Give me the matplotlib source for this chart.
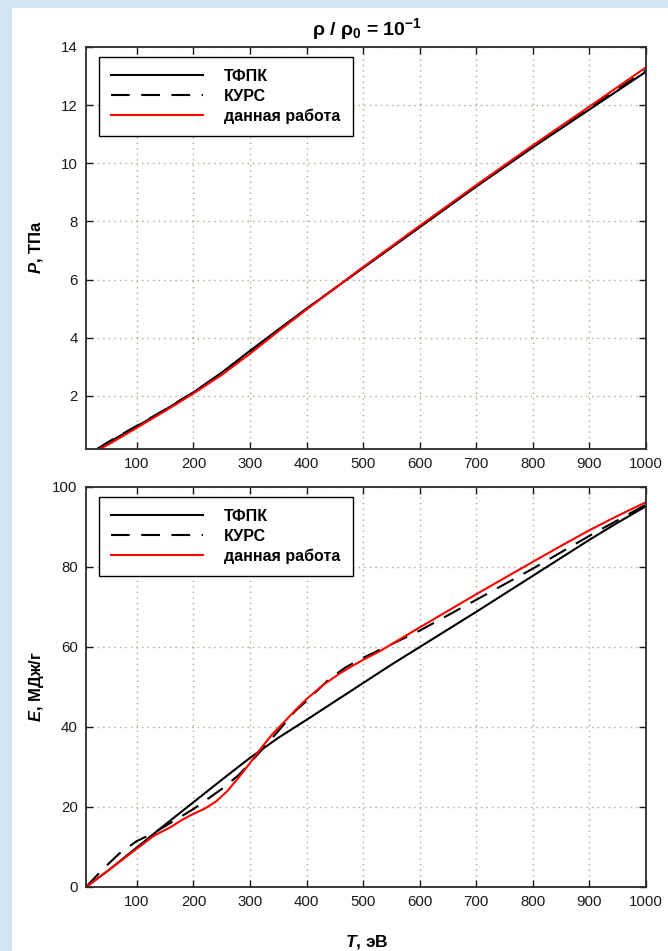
import numpy as np
import matplotlib
matplotlib.use('Agg')
import matplotlib.pyplot as plt
from matplotlib.patches import Rectangle

plt.rcParams['font.family'] = ['Liberation Sans', 'DejaVu Sans']
plt.rcParams['mathtext.fontset'] = 'custom'
plt.rcParams['mathtext.rm'] = 'Liberation Sans:bold'
plt.rcParams['mathtext.it'] = 'Liberation Sans:italic:bold'
plt.rcParams['mathtext.bf'] = 'Liberation Sans:bold'

# pressure, TPa
T_p_tf = [30, 50, 100, 150, 200, 250, 300, 350, 400, 450, 500, 600, 700, 800, 900, 1000]
P_tf = [0.17, 0.40, 0.95, 1.52, 2.12, 2.80, 3.55, 4.28, 5.00, 5.70, 6.40, 7.80, 9.20, 10.55, 11.85, 13.15]
T_p_kurs = [30, 50, 100, 150, 200, 250, 300, 350, 400, 450, 500, 600, 700, 800, 900, 1000]
P_kurs = [0.17, 0.42, 0.97, 1.53, 2.12, 2.78, 3.52, 4.26, 5.00, 5.70, 6.42, 7.82, 9.22, 10.58, 11.90, 13.20]
T_p_our = [32, 50, 100, 150, 200, 250, 300, 350, 400, 450, 500, 600, 700, 800, 900, 1000]
P_our = [0.15, 0.33, 0.90, 1.48, 2.08, 2.72, 3.45, 4.22, 4.97, 5.70, 6.43, 7.85, 9.25, 10.62, 11.95, 13.30]

# energy, MJ/kg
T_e_tf = [10, 50, 100, 150, 200, 250, 300, 350, 400, 450, 500, 550, 600, 700, 800, 850, 900, 950, 1000]
E_tf = [0, 4.2, 9.9, 15.6, 21.2, 26.8, 32.3, 37.3, 41.8, 46.4, 51.0, 55.6, 60.0, 68.8, 77.8, 82.3, 86.8, 91.1, 95.2]
T_e_kurs = [10, 40, 70, 100, 130, 165, 200, 250, 280, 300, 350, 380, 400, 440, 470, 500, 540, 600, 700, 800, 900, 1000]
E_kurs = [0, 4.5, 8.5, 11.5, 13.5, 16.5, 19.5, 24.5, 28.0, 31.0, 39.0, 44.0, 46.5, 52.0, 55.0, 57.3, 60.0, 64.1,
          71.8, 79.6, 87.8, 95.6]
T_e_our = [10, 50, 100, 130, 160, 180, 200, 220, 240, 260, 280, 300, 320, 340, 360, 380, 400, 430, 460, 480, 500, 530,
           600, 700, 800, 850, 900, 950, 1000]
E_our = [0, 4.2, 9.6, 12.8, 15.0, 16.8, 18.3, 19.6, 21.4, 24.0, 27.4, 31.0, 34.8, 38.3, 41.2, 44.2, 47.0, 50.6, 53.5,
         55.2, 56.8, 59.0, 64.9, 73.2, 81.3, 85.3, 89.2, 92.8, 96.2]

labels = ['ТФПК', 'КУРС', 'данная работа']
xticks = [100, 200, 300, 400, 500, 600, 700, 800, 900, 1000]

W, H = 668, 951
fig = plt.figure(figsize=(W / 100, H / 100), dpi=100)
fig.patch.set_facecolor('#d3e3f4')
# white sheet behind the plots
fig.patches.append(Rectangle((12 / W, 0), 1 - 12 / W, 1 - 8 / H, transform=fig.transFigure,
                             facecolor='white', edgecolor='none', zorder=-10))

ax1 = fig.add_axes([86 / W, 1 - 449 / H, 560 / W, 402 / H])
ax2 = fig.add_axes([86 / W, 1 - 887 / H, 560 / W, 400 / H])

lw = 1.5
dash = (0, (9, 5.5))
ax1.plot(T_p_tf, P_tf, color='black', lw=lw, label=labels[0])
ax1.plot(T_p_kurs, P_kurs, color='black', lw=lw, linestyle=dash, label=labels[1])
ax1.plot(T_p_our, P_our, color='red', lw=lw, label=labels[2])

ax2.plot(T_e_tf, E_tf, color='black', lw=lw, label=labels[0])
ax2.plot(T_e_kurs, E_kurs, color='black', lw=lw, linestyle=dash, label=labels[1])
ax2.plot(T_e_our, E_our, color='red', lw=lw, label=labels[2])

ax1.set_xlim(10, 1000)
ax1.set_ylim(0.17, 14)
ax1.set_yticks([2, 4, 6, 8, 10, 12, 14])
ax2.set_xlim(10, 1000)
ax2.set_ylim(0, 100)
ax2.set_yticks([0, 20, 40, 60, 80, 100])

for ax in (ax1, ax2):
    ax.set_facecolor('white')
    ax.set_xticks(xticks)
    ax.grid(True, linestyle=(0, (1, 3)), color='#a8a88a', linewidth=1)
    ax.tick_params(direction='in', top=True, right=True, length=5, width=1,
                   labelsize=10.8, pad=6, colors='#1a1a1a')
    for s in ax.spines.values():
        s.set_linewidth(1.3)
        s.set_color('#2a2a2a')
    leg = ax.legend(loc='upper left', bbox_to_anchor=(0.023, 0.975), borderaxespad=0,
                    fancybox=False, framealpha=1, edgecolor='black', handlelength=5.8,
                    handletextpad=1.3, labelspacing=0.3, borderpad=0.75,
                    prop={'weight': 'bold', 'size': 11.5})
    leg.get_frame().set_linewidth(1.0)

fig.text(367 / W, 1 - 29 / H, 'ρ / ρ$_0$ = 10$^{-1}$', ha='center', va='center',
         fontsize=14, fontweight='bold')
fig.text(36 / W, 1 - 247 / H, r'$P$, ТПа', rotation=90, ha='center', va='center',
         fontsize=12, fontweight='bold')
fig.text(36 / W, 1 - 687 / H, r'$E$, МДж/г', rotation=90, ha='center', va='center',
         fontsize=12, fontweight='bold')
fig.text(367 / W, 1 - 942 / H, r'$T$, эВ', ha='center', va='center',
         fontsize=12.5, fontweight='bold')

fig.savefig('out.png', dpi=100, facecolor=fig.get_facecolor())
